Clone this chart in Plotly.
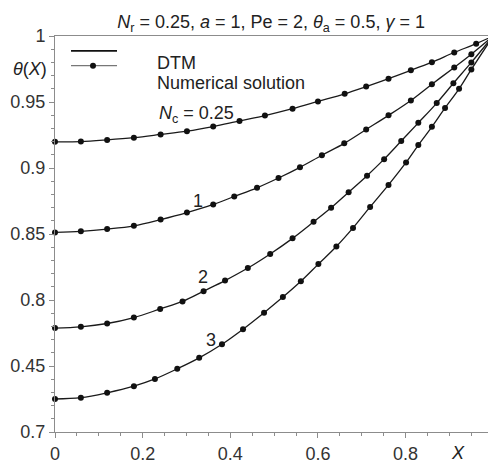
import plotly.graph_objects as go

# ---- data ----
x_nc025 = [0, 0.059, 0.119, 0.180, 0.241, 0.301, 0.361, 0.421, 0.479, 0.542, 0.600,
           0.661, 0.710, 0.761, 0.812, 0.860, 0.911, 0.961, 1.0]
t_nc025 = [0.9198, 0.9200, 0.9213, 0.9230, 0.9254, 0.9279, 0.9314, 0.9357, 0.9397, 0.9449, 0.9504,
           0.9562, 0.9617, 0.9677, 0.9740, 0.9802, 0.9875, 0.9942, 1.0]

x_nc1 = [0, 0.059, 0.119, 0.180, 0.241, 0.301, 0.361, 0.409, 0.461, 0.510, 0.559,
         0.609, 0.660, 0.710, 0.761, 0.812, 0.860, 0.911, 0.950, 1.0]
t_nc1 = [0.8512, 0.8520, 0.8537, 0.8562, 0.8609, 0.8662, 0.8724, 0.8784, 0.8850, 0.8924, 0.9005,
         0.9097, 0.9187, 0.9292, 0.9399, 0.9512, 0.9635, 0.9762, 0.9862, 1.0]

x_nc2 = [0, 0.059, 0.119, 0.180, 0.240, 0.291, 0.339, 0.388, 0.440, 0.491, 0.542,
         0.590, 0.630, 0.670, 0.712, 0.751, 0.790, 0.829, 0.871, 0.909, 0.950, 1.0]
t_nc2 = [0.7787, 0.7797, 0.7822, 0.7867, 0.7932, 0.7989, 0.8067, 0.8147, 0.8242, 0.8349, 0.8467,
         0.8592, 0.8699, 0.8817, 0.8942, 0.9067, 0.9204, 0.9342, 0.9492, 0.9642, 0.9800, 1.0]

x_nc3 = [0, 0.059, 0.119, 0.180, 0.228, 0.279, 0.329, 0.381, 0.429, 0.477, 0.520,
         0.561, 0.601, 0.642, 0.680, 0.719, 0.761, 0.801, 0.829, 0.860, 0.890, 0.922, 0.950, 1.0]
t_nc3 = [0.7250, 0.7260, 0.7297, 0.7347, 0.7402, 0.7479, 0.7562, 0.7665, 0.7779, 0.7904, 0.8022,
         0.8142, 0.8272, 0.8405, 0.8546, 0.8705, 0.8872, 0.9042, 0.9174, 0.9312, 0.9455, 0.9600, 0.9747, 1.0]

curves = [(x_nc025, t_nc025), (x_nc1, t_nc1), (x_nc2, t_nc2), (x_nc3, t_nc3)]

curve_labels = ["<i>N</i><sub>c</sub> = 0.25", "1", "2", "3"]
label_x = [0.323, 0.326, 0.338, 0.356]
label_y = [0.9404, 0.8752, 0.8174, 0.7694]

y_tickvals = [0.7, 0.75, 0.8, 0.85, 0.9, 0.95, 1.0]
y_ticktext = ["0.7", "0.45", "0.8", "0.85", "0.9", "0.95", "1"]
x_tickvals = [0, 0.2, 0.4, 0.6, 0.8]
x_ticktext = ["0", "0.2", "0.4", "0.6", "0.8"]

FONT = "Liberation Sans, Arial, sans-serif"
TXT = "#222222"
AX = "#8c8c8c"

fig = go.Figure()
for xs, ts in curves:
    fig.add_trace(go.Scatter(x=xs, y=ts, mode="lines", line=dict(color="#1a1a1a", width=1.3, shape="spline"),
                             showlegend=False, hoverinfo="skip"))
    fig.add_trace(go.Scatter(x=xs, y=ts, mode="markers", marker=dict(color="#111111", size=6),
                             showlegend=False, cliponaxis=False, hoverinfo="skip"))

annotations = []
for txt, lx, ly in zip(curve_labels, label_x, label_y):
    annotations.append(dict(x=lx, y=ly, xref="x", yref="y", text=txt, showarrow=False,
                            font=dict(size=18, color=TXT, family=FONT), xanchor="center", yanchor="middle"))

# axis titles
annotations.append(dict(x=-0.058, y=0.9175, xref="paper", yref="paper", text="<i>θ</i>(<i>X</i>)",
                        showarrow=False, font=dict(size=18, color=TXT, family=FONT),
                        xanchor="center", yanchor="middle"))
annotations.append(dict(x=0.931, y=-0.052, xref="paper", yref="paper", text="<i>X</i>",
                        showarrow=False, font=dict(size=18, color=TXT, family=FONT),
                        xanchor="center", yanchor="middle"))
# legend texts
annotations.append(dict(x=0.231, y=0.9325, xref="paper", yref="paper", text="DTM", showarrow=False,
                        font=dict(size=18, color=TXT, family=FONT), xanchor="left", yanchor="middle"))
annotations.append(dict(x=0.231, y=0.8825, xref="paper", yref="paper", text="Numerical solution",
                        showarrow=False, font=dict(size=18, color=TXT, family=FONT),
                        xanchor="left", yanchor="middle"))

shapes = [
    dict(type="line", xref="paper", yref="paper", x0=0.037, x1=0.1432, y0=0.9625, y1=0.9625,
         line=dict(color="#111111", width=1.6)),
    dict(type="line", xref="paper", yref="paper", x0=0.037, x1=0.1432, y0=0.925, y1=0.925,
         line=dict(color="#777777", width=1.2)),
    dict(type="circle", xref="paper", yref="paper", x0=0.0878 - 0.0069, x1=0.0878 + 0.0069,
         y0=0.925 - 0.0075, y1=0.925 + 0.0075, fillcolor="#111111", line=dict(color="#111111", width=0)),
]

fig.update_layout(
    width=488, height=464,
    margin=dict(l=55, r=0, t=36, b=28),
    paper_bgcolor="white", plot_bgcolor="white",
    title=dict(text="<i>N</i><sub>r</sub> = 0.25, <i>a</i> = 1, Pe = 2, <i>θ</i><sub>a</sub> = 0.5, <i>γ</i> = 1",
               x=0.5555, xanchor="center", y=0.953, yanchor="middle", yref="container",
               font=dict(size=18, color=TXT, family=FONT)),
    annotations=annotations,
    shapes=shapes,
    xaxis=dict(range=[0, 0.988], tickvals=x_tickvals, ticktext=x_ticktext,
               showgrid=False, zeroline=False, showline=True, linecolor=AX, linewidth=1, mirror=True,
               ticks="outside", ticklen=5, tickcolor=AX,
               minor=dict(dtick=0.05, ticks="outside", ticklen=3, tickcolor=AX),
               tickfont=dict(size=18, color="#333333", family=FONT)),
    yaxis=dict(range=[0.7, 1.0], tickvals=y_tickvals, ticktext=y_ticktext,
               showgrid=False, zeroline=False, showline=True, linecolor=AX, linewidth=1,
               ticks="outside", ticklen=5, tickcolor=AX,
               minor=dict(dtick=0.01, ticks="outside", ticklen=3, tickcolor=AX),
               tickfont=dict(size=18, color="#333333", family=FONT)),
)

fig.write_html("out.html")
